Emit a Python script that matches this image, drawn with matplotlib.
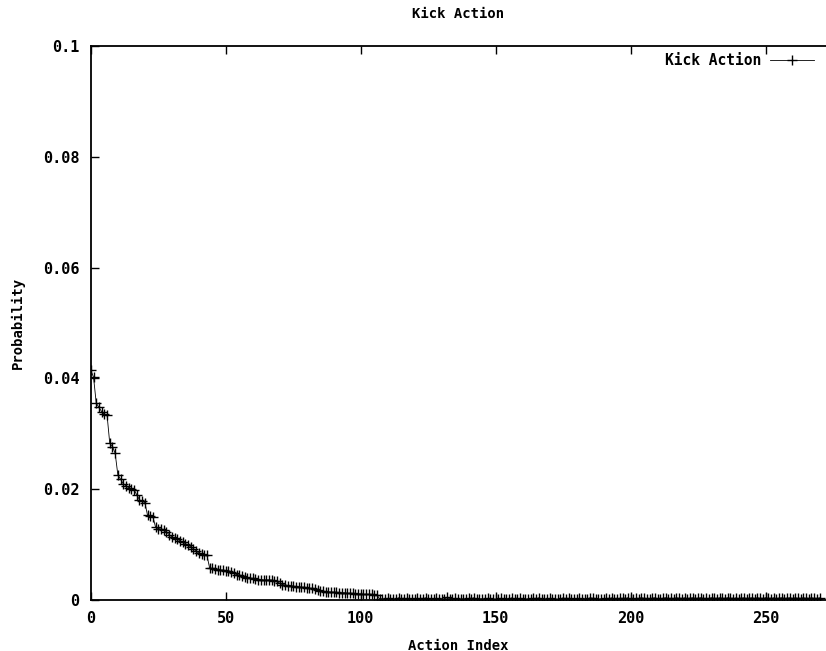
import matplotlib
matplotlib.use("Agg")
import matplotlib.pyplot as plt

# Kick action probabilities (index 0..107)
head = [0.0415, 0.0402, 0.0355, 0.0348, 0.0340, 0.0335, 0.0334, 0.0283, 0.0277, 0.0265,
        0.0226, 0.0218, 0.0210, 0.0206, 0.0203, 0.0201, 0.0199, 0.0190, 0.0181, 0.0178,
        0.0176, 0.0153, 0.0151, 0.0150, 0.0131, 0.0129, 0.0128, 0.0126, 0.0123, 0.0118,
        0.0114, 0.0112, 0.0110, 0.0107, 0.0104, 0.0102, 0.0099, 0.0096, 0.0093, 0.0088,
        0.0085, 0.0083, 0.0082, 0.0081, 0.0058, 0.0057, 0.0056, 0.0055, 0.0054, 0.0054,
        0.0053, 0.0053, 0.0051, 0.0048, 0.0046, 0.0045, 0.0044, 0.0042, 0.0040, 0.0039,
        0.0039, 0.0038, 0.0037, 0.0037, 0.0036, 0.0036, 0.0036, 0.0036, 0.0035, 0.0034,
        0.0030, 0.0028, 0.0027, 0.0026, 0.0026, 0.0025, 0.0024, 0.0024, 0.0023, 0.0023,
        0.0022, 0.0021, 0.0021, 0.0020, 0.0018, 0.0016, 0.0016, 0.0015, 0.0015, 0.0014,
        0.0014, 0.0014, 0.0013, 0.0013, 0.0013, 0.0012, 0.0012, 0.0012, 0.0011, 0.0011,
        0.0011, 0.0010, 0.0010, 0.0010, 0.0010, 0.0009, 0.0009, 0.0002]

# long flat tail (index 108..270), in units of 1e-4
tail_e4 = [2, 1, 3, 2, 2, 1, 4, 2, 1, 3, 2, 1, 2, 3, 1, 2, 4, 2, 1, 1,
           3, 2, 2, 1, 5, 2, 1, 3, 2, 1, 2, 1, 3, 2, 4, 1, 2, 2, 1, 3,
           2, 1, 1, 2, 3, 1, 2, 2, 4, 1, 2, 3, 1, 1, 2, 2, 3, 1, 4, 2,
           1, 2, 3, 2, 1, 1, 2, 4, 2, 3, 1, 2, 1, 3, 2, 2, 1, 4, 3, 2,
           1, 2, 2, 3, 1, 4, 2, 1, 3, 3, 2, 4, 1, 2, 3, 2, 4, 3, 1, 2,
           3, 4, 2, 1, 3, 4, 2, 3, 1, 4, 3, 2, 4, 1, 3, 4, 2, 3, 4, 1,
           3, 2, 4, 3, 1, 4, 3, 2, 4, 3, 1, 4, 2, 3, 4, 1, 3, 4, 2, 4,
           3, 1, 4, 3, 2, 4, 1, 3, 4, 2, 3, 4, 1, 4, 3, 2, 4, 3, 1, 4,
           3, 2, 4]

probs = head + [v * 1e-4 for v in tail_e4]
index = list(range(len(probs)))

x_ticks = [0, 50, 100, 150, 200, 250]
y_ticks = [0, 0.02, 0.04, 0.06, 0.08, 0.1]
y_labels = ['0', '0.02', '0.04', '0.06', '0.08', '0.1']

plt.rcParams['font.family'] = ['DejaVu Sans Mono']
plt.rcParams['font.weight'] = 'bold'

fig = plt.figure(figsize=(8.26, 6.51), dpi=100)
ax = fig.add_axes([0.110, 0.0783, 0.890, 0.851])

ax.plot(index, probs, color='black', lw=0.6, marker='+', ms=7.5, mew=1.0,
        label='Kick Action')

ax.set_xlim(0, 272.4)
ax.set_ylim(0, 0.1)
ax.set_xticks(x_ticks)
ax.set_yticks(y_ticks)
ax.set_yticklabels(y_labels)
ax.tick_params(direction='in', length=6, width=1, top=True, right=False,
               labelsize=11, pad=8)
for lab in ax.get_xticklabels() + ax.get_yticklabels():
    lab.set_fontweight('bold')
ax.spines['right'].set_visible(False)
for s in ['left', 'top', 'bottom']:
    ax.spines[s].set_linewidth(1.3)

ax.set_title('Kick Action', fontsize=10, fontweight='bold', pad=20)
ax.set_xlabel('Action Index', fontsize=10, fontweight='bold', labelpad=9)
ax.set_ylabel('Probability', fontsize=10, fontweight='bold', labelpad=13)

ax.legend(loc='upper right', frameon=False, markerfirst=False, fontsize=10.5,
          handlelength=3.0, handletextpad=0.6,
          bbox_to_anchor=(0.997, 1.005), borderaxespad=0.3)

plt.savefig('out.png', dpi=100)
